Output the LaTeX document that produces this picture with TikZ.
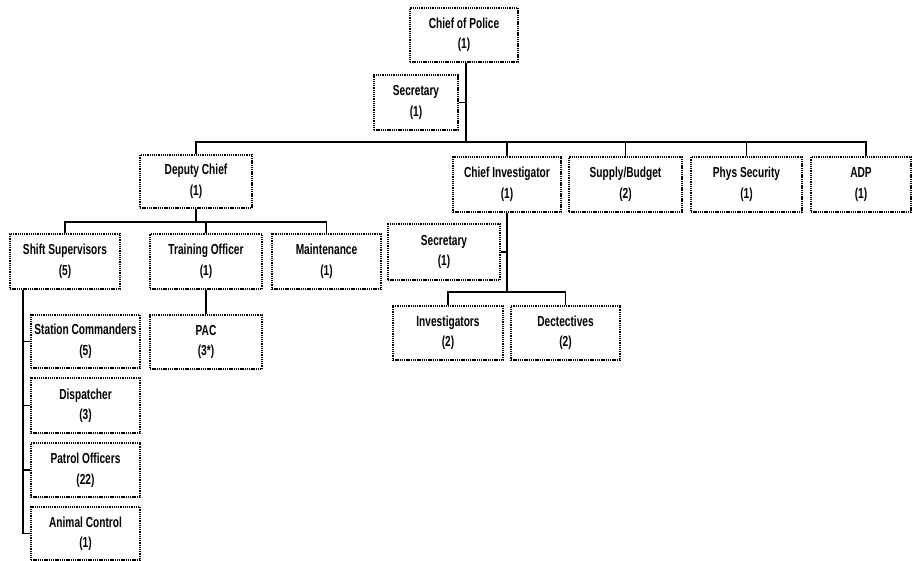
\documentclass[tikz,border=0pt]{standalone}
\usepackage{fontspec}
\setmainfont{Liberation Sans}[FakeStretch=0.7]
\begin{document}
\begin{tikzpicture}[x=1pt,y=-1pt,
  orgbox/.style={draw=black, line width=1.3pt, dash pattern=on 1.3pt off 0.9pt,
    inner sep=0pt, align=center, font=\bfseries\fontsize{14.5}{20.5}\selectfont},
  wire/.style={draw=black, line width=1.6pt},
  thinwire/.style={draw=black, line width=1.2pt}]
\useasboundingbox (0,0) rectangle (913,561);
% level 0-1
\node[orgbox, minimum width=108, minimum height=54] (chief) at (464,35) {Chief of Police\\(1)};
\node[orgbox, minimum width=84, minimum height=55] (sec1) at (416,102.5) {Secretary\\(1)};
\node[orgbox, minimum width=112, minimum height=53] (deputy) at (196,181.5) {Deputy Chief\\(1)};
\node[orgbox, minimum width=108, minimum height=55] (cinv) at (507,184.5) {Chief Investigator\\(1)};
\node[orgbox, minimum width=113, minimum height=55] (supply) at (625.5,184.5) {Supply/Budget\\(2)};
\node[orgbox, minimum width=111, minimum height=55] (phys) at (746.5,184.5) {Phys Security\\(1)};
\node[orgbox, minimum width=100, minimum height=55] (adp) at (861,184.5) {ADP\\(1)};
% deputy branch
\node[orgbox, minimum width=110, minimum height=55] (shift) at (65,261.5) {Shift Supervisors\\(5)};
\node[orgbox, minimum width=112, minimum height=55] (train) at (206,261.5) {Training Officer\\(1)};
\node[orgbox, minimum width=109, minimum height=55] (maint) at (326.5,261.5) {Maintenance\\(1)};
\node[orgbox, minimum width=109, minimum height=53] (station) at (85.5,341.5) {Station Commanders\\(5)};
\node[orgbox, minimum width=112, minimum height=54] (pac) at (206,342) {PAC\\(3*)};
\node[orgbox, minimum width=109, minimum height=55] (disp) at (85.5,405.5) {Dispatcher\\(3)};
\node[orgbox, minimum width=109, minimum height=54] (patrol) at (85.5,470) {Patrol Officers\\(22)};
\node[orgbox, minimum width=109, minimum height=53] (animal) at (85.5,533.5) {Animal Control\\(1)};
% investigator branch
\node[orgbox, minimum width=112, minimum height=56] (sec2) at (444,252) {Secretary\\(1)};
\node[orgbox, minimum width=110, minimum height=54] (invest) at (448,333) {Investigators\\(2)};
\node[orgbox, minimum width=109, minimum height=54] (detect) at (565.5,333) {Dectectives\\(2)};
% top connectors
\coordinate (cdrop) at ([xshift=2pt]chief.south);
\coordinate (bus) at (cdrop |- 0,142);
\draw[wire] (cdrop) -- (bus);
\draw[thinwire] (sec1.east) -- (sec1.east -| cdrop);
\coordinate (adpin) at ([xshift=5pt]adp.north);
\draw[wire] (deputy.north) |- (bus) -| (adpin);
\draw[wire] (cinv.north) -- (cinv.north |- bus);
\draw[wire] (supply.north) -- (supply.north |- bus);
\draw[thinwire] (phys.north) -- (phys.north |- bus);
% deputy connectors
\coordinate (dbus) at (deputy.south |- 0,222);
\draw[wire] (deputy.south) -- (dbus);
\draw[wire] (shift.north) |- (dbus) -| (maint.north);
\draw[thinwire] (train.north) -- (train.north |- dbus);
\draw[thinwire] (train.south) -- (pac.north);
% shift supervisors column
\coordinate (sdrop) at (23,0);
\coordinate (stop) at (sdrop |- shift.south);
\coordinate (sbot) at (sdrop |- animal.west);
\draw[wire] (stop) -- (sbot) -- (animal.west);
\draw[thinwire] (station.west) -- (station.west -| sdrop);
\draw[thinwire] (disp.west) -- (disp.west -| sdrop);
\draw[thinwire] (patrol.west) -- (patrol.west -| sdrop);
% investigator connectors
\coordinate (ibus) at (cinv.south |- 0,292);
\draw[wire] (cinv.south) -- (ibus);
\draw[thinwire] (sec2.east) -- (sec2.east -| cinv.south);
\draw[wire] (invest.north) |- (ibus) -| (detect.north);
\end{tikzpicture}
\end{document}
